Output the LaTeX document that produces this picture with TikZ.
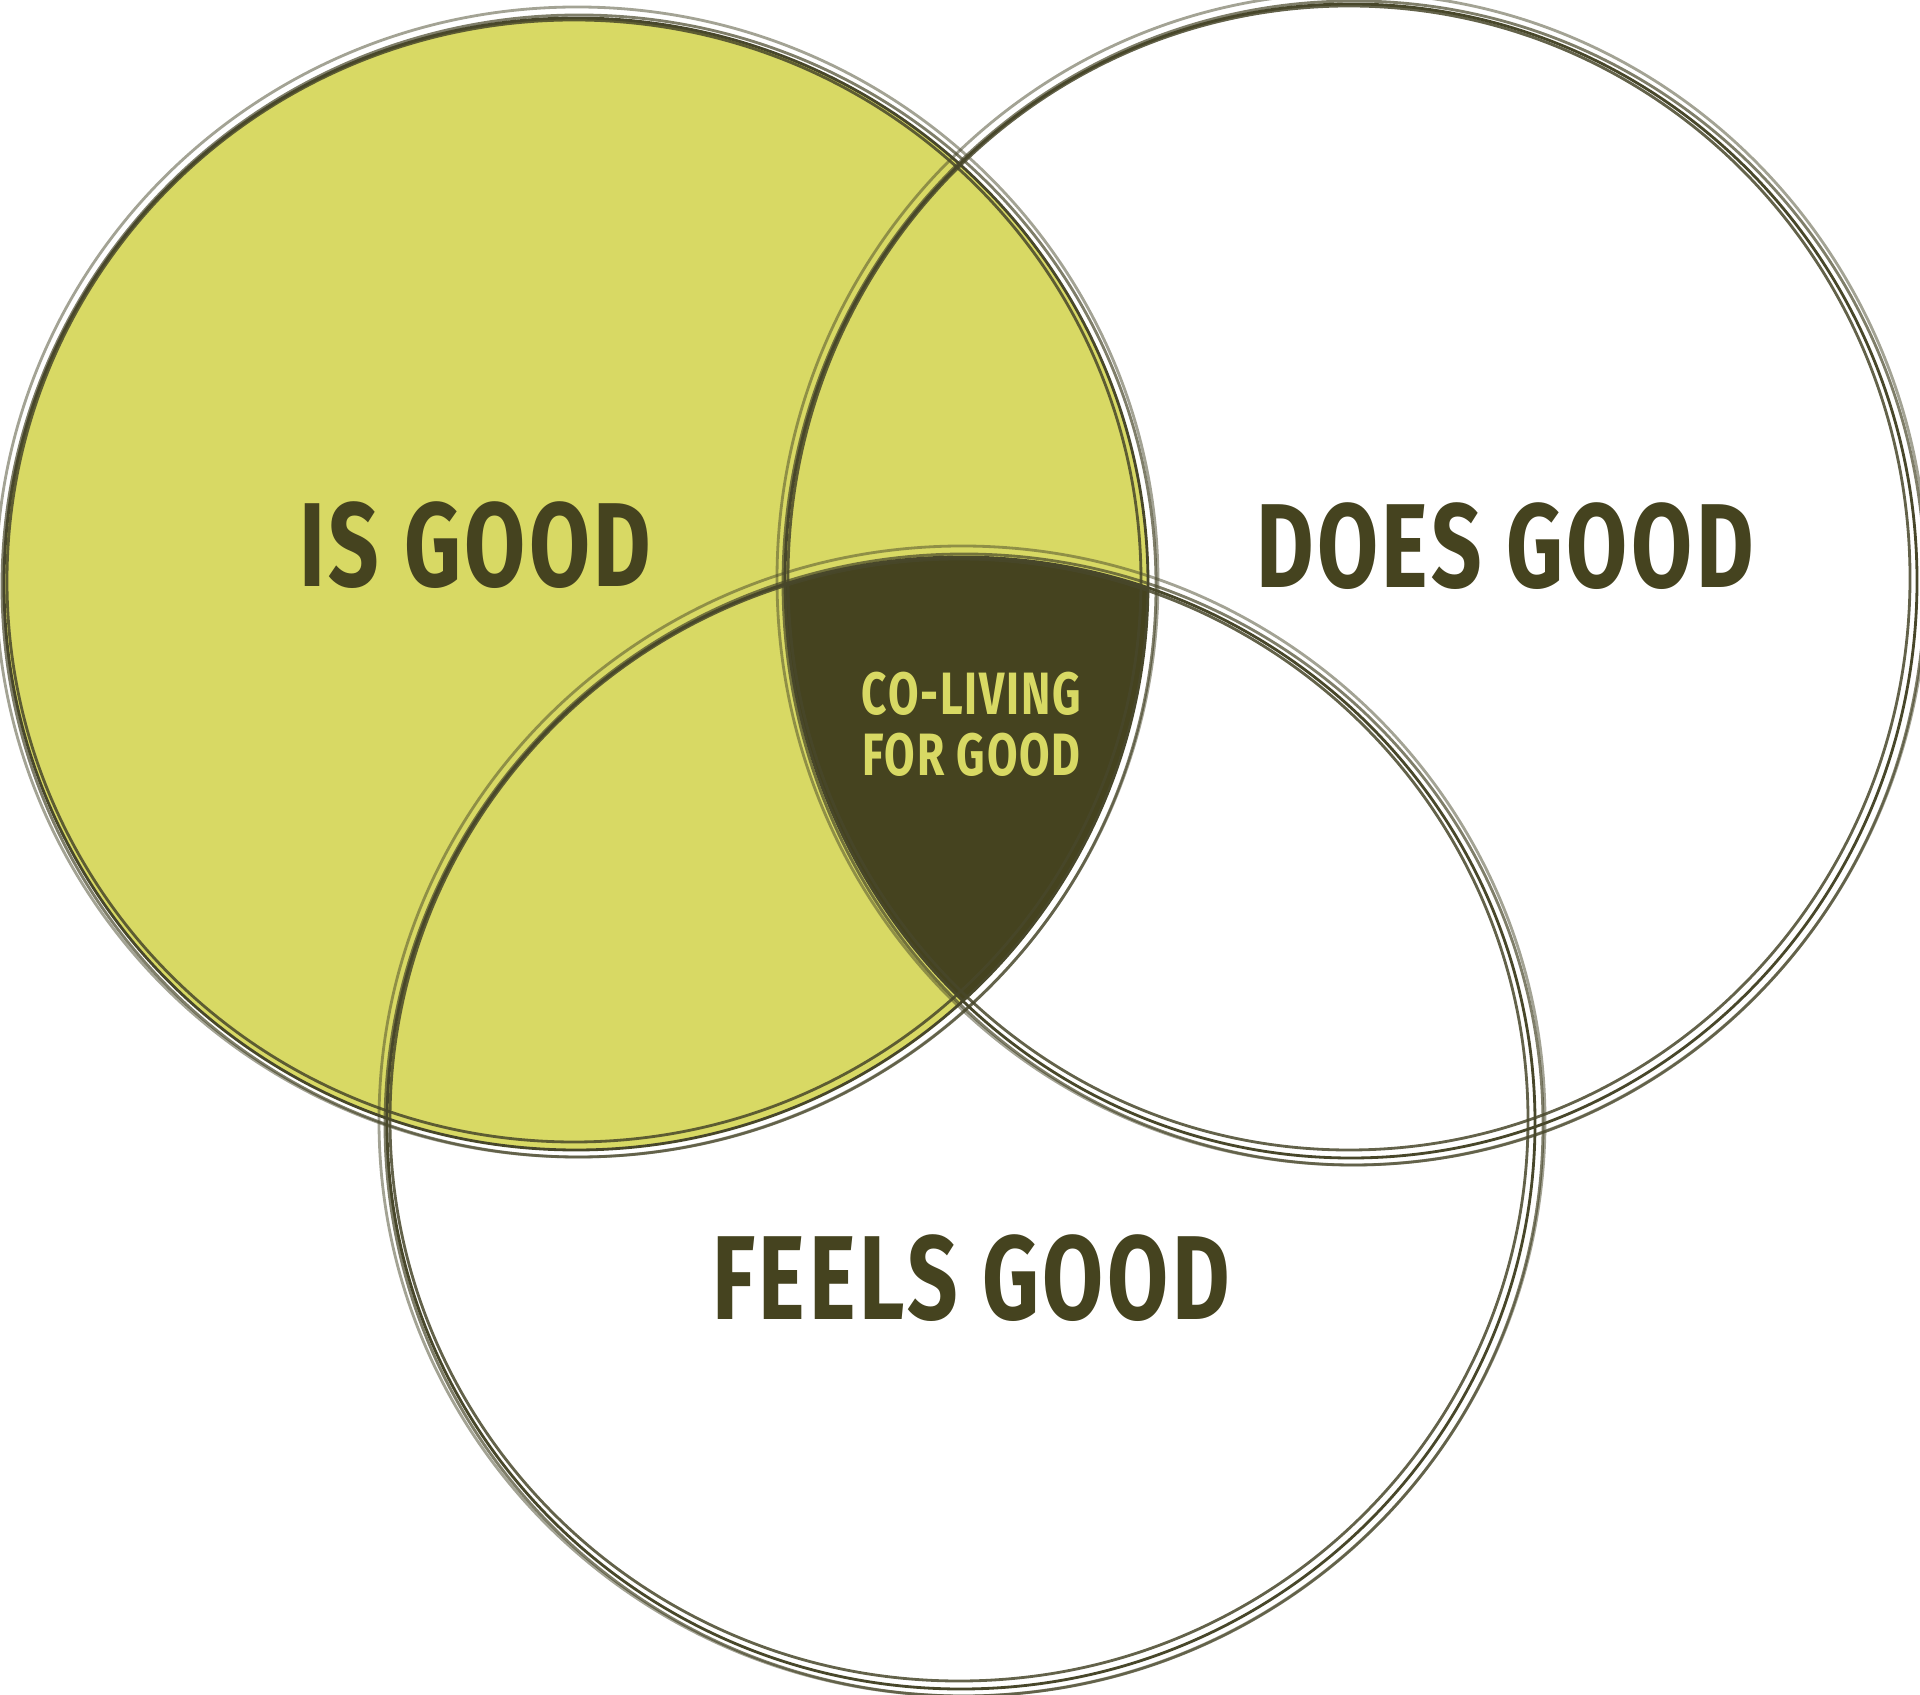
\documentclass[tikz,border=0pt]{standalone}
\usepackage{fontspec}
\newfontfamily\vennfont[FakeStretch=0.74, LetterSpace=3.0]{Fira Sans}
\usetikzlibrary{positioning}
\definecolor{giallo}{HTML}{D8D964}
\definecolor{oliva}{HTML}{45431F}
\definecolor{bordo}{HTML}{48472A}

\begin{document}
\begin{tikzpicture}[
        etichetta/.style = {text = oliva, inner sep = 0pt, anchor = base,
            font = \vennfont\bfseries\fontsize{34}{34}\selectfont},
        centro/.style = {text = giallo, inner sep = 0pt, align = center,
            font = \vennfont\bfseries\fontsize{17}{17.4}\selectfont},
        tratto/.style = {draw = bordo, line width = 0.8pt}
    ]
        % Parametri
        \useasboundingbox (0,0) rectangle (19.2,16.94);
        \coordinate (IsC) at (5.76,11.10);
        \coordinate (DoesC) at (13.51,11.13);
        \coordinate (FeelsC) at (9.61,5.71);
        % Riempimenti
        \fill[giallo] (IsC) ellipse [x radius = 5.72, y radius = 5.66];
        \begin{scope}
            \clip (IsC) ellipse [x radius = 5.72, y radius = 5.66];
            \clip (DoesC) ellipse [x radius = 5.66, y radius = 5.77];
            \fill[oliva] (FeelsC) ellipse [x radius = 5.74, y radius = 5.66];
        \end{scope}
        % Bordi a mano libera
        \foreach \c/\rx/\ry in {IsC/5.72/5.66, DoesC/5.66/5.77, FeelsC/5.74/5.66}{
            \foreach \dx/\dy/\dr/\op in {0/0/0/1, 0.03/-0.02/0.05/0.7, -0.02/0.03/-0.05/0.85, 0.01/0.02/0.09/0.5}{
                \pgfmathsetmacro{\ax}{\rx+\dr}
                \pgfmathsetmacro{\ay}{\ry+\dr}
                \draw[tratto, draw opacity = \op] ([xshift = \dx cm, yshift = \dy cm]\c) ellipse [x radius = \ax, y radius = \ay];
            }
        }
        % Etichette
        \node[etichetta] (IsGood) at (4.755,11.07) {IS GOOD};
        \node[etichetta] (DoesGood) at (15.05,11.06) {DOES GOOD};
        \node[etichetta] (FeelsGood) at (9.71,3.75) {FEELS GOOD};
        \node[centro] (CoLiving) at (9.715,9.70) {CO-LIVING\\FOR GOOD};
    \end{tikzpicture}
\end{document}
